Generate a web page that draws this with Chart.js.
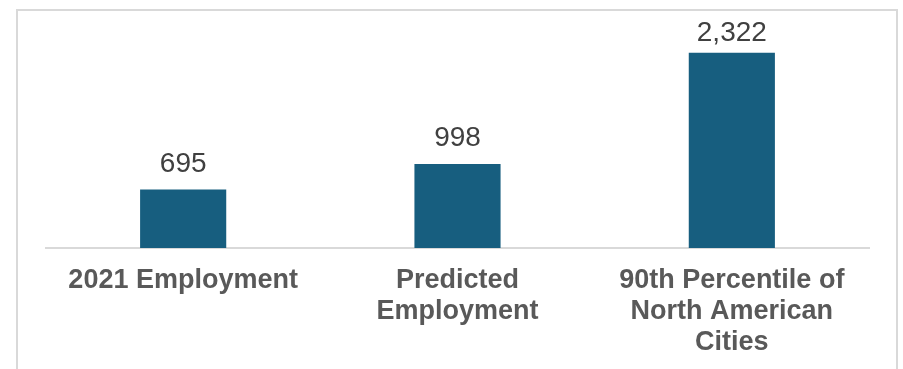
<!DOCTYPE html>
<html>
<head>
<meta charset="utf-8">
<script src="https://cdn.jsdelivr.net/npm/chart.js@4"></script>
<style>
  body { margin: 0; background: #fff; }
  canvas { display: block; }
</style>
</head>
<body>
<canvas id="myChart" width="903" height="369"></canvas>
<script>
var categories = [
  ['2021 Employment'],
  ['Predicted', 'Employment'],
  ['90th Percentile of', 'North American', 'Cities']
];
var employment = [695, 998, 2322];

var FONT = '"Liberation Sans", Arial, sans-serif';

// light grey frame around the whole figure (open at the bottom)
var frame = {
  id: 'frame',
  beforeDraw: function (chart) {
    var c = chart.ctx;
    c.save();
    c.strokeStyle = '#d9d9d9';
    c.lineWidth = 2;
    c.beginPath();
    c.moveTo(17, 369);
    c.lineTo(17, 10);
    c.lineTo(897, 10);
    c.lineTo(897, 369);
    c.stroke();
    c.restore();
  }
};

// value above each bar, kept inside the plot area
var valueLabels = {
  id: 'valueLabels',
  afterDatasetsDraw: function (chart) {
    var c = chart.ctx;
    var top = chart.chartArea.top;
    c.save();
    c.font = '28px ' + FONT;
    c.fillStyle = '#404040';
    c.textAlign = 'center';
    c.textBaseline = 'alphabetic';
    chart.getDatasetMeta(0).data.forEach(function (bar, i) {
      var y = Math.max(bar.y - 18, top + 20);
      c.fillText(employment[i].toLocaleString('en-US'), bar.x, y);
    });
    c.restore();
  }
};

var ctx = document.getElementById('myChart').getContext('2d');
var myChart = new Chart(ctx, {
  type: 'bar',
  data: {
    labels: categories,
    datasets: [{
      data: employment,
      backgroundColor: '#175e7f',
      categoryPercentage: 1,
      barPercentage: 0.314
    }]
  },
  options: {
    responsive: false,
    animation: false,
    layout: { padding: { left: 46, right: 34, top: 21, bottom: 0 } },
    plugins: {
      legend: { display: false },
      tooltip: { enabled: false }
    },
    scales: {
      x: {
        grid: { display: false, drawTicks: false },
        border: { display: true, color: '#d9d9d9', width: 2 },
        ticks: {
          color: '#595959',
          padding: 17,
          maxRotation: 0,
          autoSkip: false,
          font: { family: FONT, size: 27, weight: 'bold', lineHeight: 1.15 }
        },
        afterFit: function (scale) { scale.height = 121; }
      },
      y: {
        display: false,
        min: 0,
        max: 2700,
        afterFit: function (scale) { scale.width = 0; }
      }
    }
  },
  plugins: [frame, valueLabels]
});
</script>
</body>
</html>
